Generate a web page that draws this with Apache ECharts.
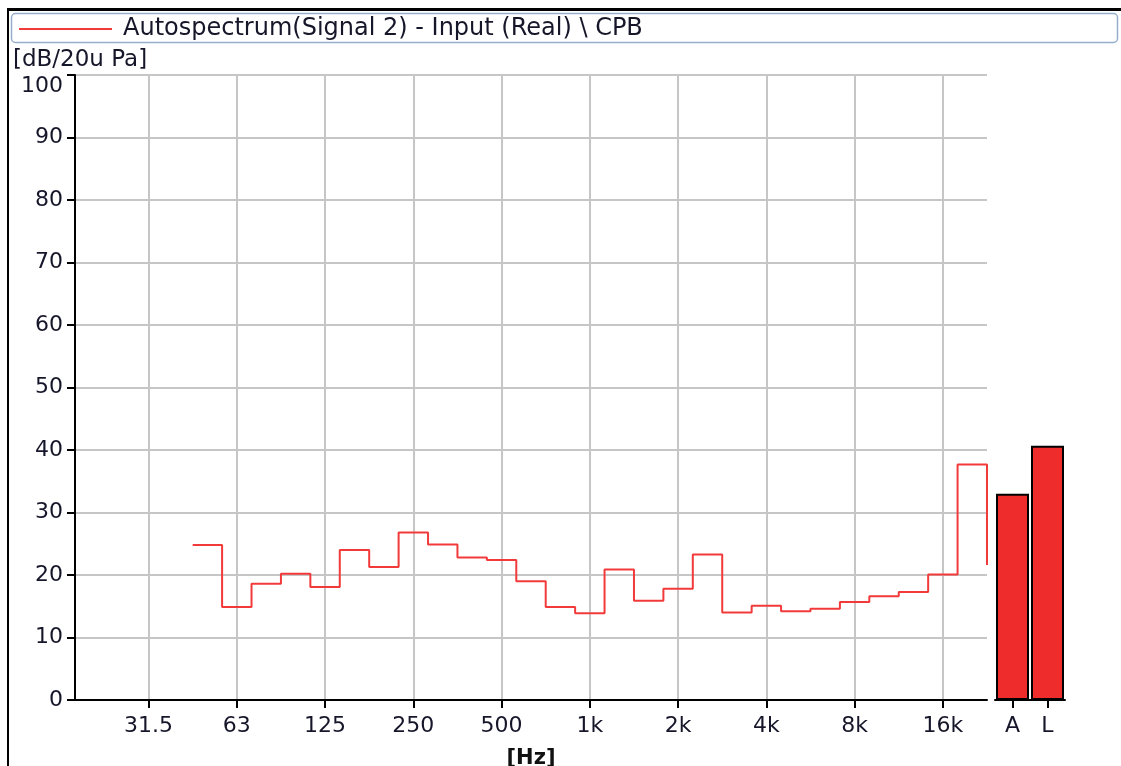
<!DOCTYPE html>
<html>
<head>
<meta charset="utf-8">
<script src="https://cdn.jsdelivr.net/npm/echarts@6/dist/echarts.min.js"></script>
<style>
  html, body { margin: 0; padding: 0; background: #ffffff; }
  #chart { width: 1121px; height: 766px; }
</style>
</head>
<body>
<div id="chart"></div>
<script>
// ---- data ----
const seriesName = 'Autospectrum(Signal 2) - Input (Real) \\ CPB';
const yUnitLabel = '[dB/20u Pa]';
const xUnitLabel = '[Hz]';

// 1/3-octave bands (band number relative to 1 kHz = 0)
const bandLabels = ['50','63','80','100','125','160','200','250','315','400','500','630','800','1k','1.25k','1.6k','2k','2.5k','3.15k','4k','5k','6.3k','8k','10k','12.5k','16k','20k','25k'];
const bandLevels = [24.8,14.9,18.6,20.2,18.1,24.0,21.3,26.8,24.9,22.8,22.4,19.0,14.9,13.9,20.9,15.9,17.8,23.3,14.0,15.1,14.2,14.6,15.7,16.6,17.3,20.1,37.7,21.6];
const firstBandNumber = -13;          // 50 Hz band
const axisBandMin = -17.5;            // lower edge of 20 Hz band
const axisBandMax = 13.5;             // upper edge of 20 kHz band

const octaveTickBands  = [-15,-12,-9,-6,-3,0,3,6,9,12];
const octaveTickLabels = ['31.5','63','125','250','500','1k','2k','4k','8k','16k'];

const overallLabels = ['A','L'];
const overallLevels = [33.0, 40.7];

const yTicks = [0,10,20,30,40,50,60,70,80,90,100];

// ---- build ----
const stepData = bandLevels.map((v, i) => [firstBandNumber + i - 0.5, v]);

const FONT = 'DejaVu Sans';
const TXT = '#16162a';
const TICK_FS = 22;

const chart = echarts.init(document.getElementById('chart'), null, { renderer: 'canvas' });

const option = {
  animation: false,
  backgroundColor: '#ffffff',
  graphic: [
    { type: 'rect', shape: { x: 7, y: 8, width: 1114, height: 3 }, style: { fill: '#000' }, z: 10 },
    { type: 'rect', shape: { x: 7, y: 8, width: 2, height: 758 }, style: { fill: '#000' }, z: 10 },
    { type: 'rect', shape: { x: 11.5, y: 13.5, width: 1106, height: 29, r: 4 },
      style: { fill: '#ffffff', stroke: '#97aecb', lineWidth: 1.5 }, z: 0 },
    { type: 'text', left: 13, top: 49,
      style: { text: yUnitLabel, font: '23px "DejaVu Sans"', fill: TXT }, z: 10 }
  ],
  legend: {
    data: [seriesName],
    left: 19,
    top: 16,
    padding: 0,
    icon: 'rect',
    itemWidth: 93,
    itemHeight: 2,
    selectedMode: false,
    textStyle: { fontFamily: FONT, fontSize: 24, color: TXT, padding: [0, 0, 0, 6], lineHeight: 26 },
    z: 5
  },
  grid: [
    { left: 75, top: 75, width: 912, height: 625, containLabel: false, outerBoundsMode: 'none' },
    { left: 995, top: 75, width: 70, height: 625, containLabel: false, outerBoundsMode: 'none' }
  ],
  xAxis: [
    {
      type: 'value',
      gridIndex: 0,
      min: axisBandMin,
      max: axisBandMax,
      name: xUnitLabel,
      nameLocation: 'middle',
      nameGap: 48,
      nameTextStyle: { fontFamily: FONT, fontSize: 21, fontWeight: 'bold', color: '#111' },
      axisLine: { show: true, onZero: false, lineStyle: { color: '#000', width: 2 } },
      axisTick: { show: true, customValues: octaveTickBands, length: 8, lineStyle: { color: '#000', width: 2 } },
      axisLabel: {
        customValues: octaveTickBands,
        margin: 15,
        fontFamily: FONT, fontSize: TICK_FS, color: TXT,
        formatter: v => { const i = octaveTickBands.indexOf(v); return i >= 0 ? octaveTickLabels[i] : ''; }
      },
      splitLine: { show: true, lineStyle: { color: '#c6c6c6', width: 2 } }
    },
    {
      type: 'category',
      gridIndex: 1,
      data: overallLabels,
      axisLine: { show: true, lineStyle: { color: '#000', width: 2 } },
      axisTick: { show: true, alignWithLabel: true, length: 8, lineStyle: { color: '#000', width: 2 } },
      axisLabel: { margin: 15, fontFamily: FONT, fontSize: TICK_FS, color: TXT },
      splitLine: { show: false }
    }
  ],
  yAxis: [
    {
      type: 'value',
      gridIndex: 0,
      min: 0,
      max: 100,
      interval: 10,
      axisLine: { show: true, onZero: false, lineStyle: { color: '#000', width: 2 } },
      axisTick: { show: true, length: 8, lineStyle: { color: '#000', width: 2 } },
      axisLabel: {
        margin: 12,
        fontFamily: FONT, fontSize: TICK_FS, color: TXT,
        formatter: v => v === yTicks[yTicks.length - 1] ? '{top|' + v + '}' : String(v),
        rich: { top: { fontFamily: FONT, fontSize: TICK_FS, color: TXT, padding: [22, 0, 0, 0] } }
      },
      splitLine: { show: true, lineStyle: { color: '#c6c6c6', width: 2 } }
    },
    {
      type: 'value',
      gridIndex: 1,
      min: 0,
      max: 100,
      interval: 10,
      show: false,
      splitLine: { show: false }
    }
  ],
  series: [
    {
      name: seriesName,
      type: 'line',
      xAxisIndex: 0,
      yAxisIndex: 0,
      data: stepData,
      step: 'end',
      symbol: 'none',
      clip: true,
      lineStyle: { color: '#f23a3a', width: 2 },
      itemStyle: { color: '#f23a3a' },
      z: 3
    },
    {
      name: 'Overall',
      type: 'bar',
      xAxisIndex: 1,
      yAxisIndex: 1,
      data: overallLevels,
      barWidth: 33,
      itemStyle: { color: '#ee2c2c', borderColor: '#000', borderWidth: 2 },
      z: 3
    }
  ]
};

chart.setOption(option);
</script>
</body>
</html>
